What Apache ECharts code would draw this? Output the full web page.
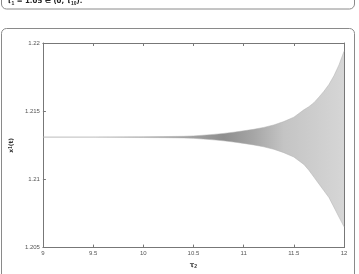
<!DOCTYPE html>
<html><head><meta charset="utf-8">
<script src="https://cdn.jsdelivr.net/npm/echarts@6/dist/echarts.min.js"></script>
<style>html,body{margin:0;padding:0;background:#fff}#c{width:359px;height:274px}</style>
</head><body><div id="c"></div>
<script>
// x positions (tau_2) where the oscillation envelope was read
var tauValues = [9.0, 9.5, 10.0, 10.2, 10.4, 10.5, 10.6, 10.7, 10.8, 10.9, 11.0, 11.1, 11.2, 11.3, 11.4, 11.5, 11.55, 11.6, 11.65, 11.7, 11.75, 11.8, 11.85, 11.9, 11.95, 12.0];
// upper envelope of x1(t)
var upperValues = [1.2131, 1.2131, 1.21313, 1.21314, 1.21316, 1.21319, 1.21324, 1.2133, 1.21337, 1.21346, 1.21356, 1.21367, 1.21381, 1.21399, 1.21424, 1.21456, 1.21483, 1.2151, 1.21533, 1.21562, 1.21603, 1.21646, 1.21696, 1.2176, 1.21839, 1.21939];
// lower envelope of x1(t)
var lowerValues = [1.2131, 1.2131, 1.21307, 1.21306, 1.21304, 1.21301, 1.21296, 1.2129, 1.21283, 1.21274, 1.21264, 1.21253, 1.21239, 1.21221, 1.21196, 1.21164, 1.21137, 1.2111, 1.21067, 1.21017, 1.20967, 1.20917, 1.20867, 1.20796, 1.20724, 1.20653];
var xTicks = [9, 9.5, 10, 10.5, 11, 11.5, 12];
var yTicks = [1.205, 1.21, 1.215, 1.22];

var lowerData = tauValues.map(function (t, i) { return [t, lowerValues[i]]; });
var upperData = tauValues.map(function (t, i) { return [t, upperValues[i]]; });

var chart = echarts.init(document.getElementById('c'), null, {renderer: 'canvas'});
var axisLineStyle = {color: '#777', width: 1};
var lbl = {fontFamily: 'Liberation Sans, Arial, sans-serif', fontSize: 6, color: '#555'};
chart.setOption({
  animation: false,
  backgroundColor: '#fff',
  grid: {left: 35, right: 15, top: 43, bottom: 21},
  xAxis: [{
    type: 'value', min: 9, max: 12, interval: 0.5, position: 'bottom',
    axisLine: {show: true, lineStyle: axisLineStyle},
    axisTick: {show: true, inside: true, length: 3, lineStyle: axisLineStyle},
    axisLabel: Object.assign({margin: 3, formatter: function (v) { return xTicks.indexOf(v) >= 0 ? String(v) : ''; }}, lbl),
    splitLine: {show: false},
    name: '{b|τ}{s|2}', nameLocation: 'middle', nameGap: 10,
    nameTextStyle: {rich: {b: {fontSize: 7, fontWeight: 'bold', color: '#333', fontFamily: 'DejaVu Sans'}, s: {fontSize: 5, fontWeight: 'bold', color: '#333', verticalAlign: 'bottom', padding: [3, 0, 0, 0]}}}
  }, {
    type: 'value', min: 9, max: 12, interval: 0.5, position: 'top',
    axisLine: {show: true, lineStyle: axisLineStyle},
    axisTick: {show: true, inside: true, length: 3, lineStyle: axisLineStyle},
    axisLabel: {show: false}, splitLine: {show: false}
  }],
  yAxis: [{
    type: 'value', min: 1.205, max: 1.22, interval: 0.005, position: 'left',
    axisLine: {show: true, lineStyle: axisLineStyle},
    axisTick: {show: true, inside: true, length: 3, lineStyle: axisLineStyle},
    axisLabel: Object.assign({margin: 3, formatter: function (v) { var r = Math.round(v * 1000) / 1000; return yTicks.indexOf(r) >= 0 ? String(r) : ''; }}, lbl),
    splitLine: {show: false},
    name: '{b|x}{s|1}{b|(t)}', nameLocation: 'middle', nameGap: 19, nameRotate: 90,
    nameTextStyle: {rich: {b: {fontSize: 6, fontWeight: 'bold', color: '#333', fontFamily: 'DejaVu Sans'}, s: {fontSize: 4.5, fontWeight: 'bold', color: '#333'}}}
  }, {
    type: 'value', min: 1.205, max: 1.22, interval: 0.005, position: 'right',
    axisLine: {show: true, lineStyle: axisLineStyle},
    axisTick: {show: true, inside: true, length: 3, lineStyle: axisLineStyle},
    axisLabel: {show: false}, splitLine: {show: false}
  }],
  series: [{
    type: 'custom', name: 'band', silent: true, clip: true,
    data: [[tauValues[0], upperValues[0]]],
    renderItem: function (params, api) {
      var pts = [];
      for (var i = 0; i < tauValues.length; i++) pts.push(api.coord([tauValues[i], upperValues[i]]));
      for (var j = tauValues.length - 1; j >= 0; j--) pts.push(api.coord([tauValues[j], lowerValues[j]]));
      return {
        type: 'polygon', shape: {points: pts},
        style: {
          fill: new echarts.graphic.LinearGradient(0, 0, 1, 0, [
            {offset: 0, color: '#b4b4b4'}, {offset: 0.5, color: '#a0a0a0'}, {offset: 0.6, color: '#8e8e8e'},
            {offset: 0.7, color: '#a6a6a6'}, {offset: 0.8, color: '#c4c4c4'}, {offset: 1, color: '#d6d6d6'}]),
          stroke: null
        }
      };
    }
  }, {
    type: 'line', name: 'upperEdge', data: upperData, symbol: 'none',
    lineStyle: {width: 0.5, color: '#b0b0b0'}, silent: true
  }, {
    type: 'line', name: 'lowerEdge', data: lowerData, symbol: 'none',
    lineStyle: {width: 0.5, color: '#b0b0b0'}, silent: true
  }],
  graphic: [{
    type: 'rect', shape: {x: 1.5, y: -30, width: 353, height: 39, r: 5},
    style: {fill: 'none', stroke: '#8a8a8a', lineWidth: 1}
  }, {
    type: 'text', left: 7, top: -2,
    style: {text: '{b|τ}{s|1}{b| = 1.05 ∈ (0, τ}{s|10}{b|).}',
      rich: {b: {fontSize: 7, fontWeight: 'bold', fill: '#222', fontFamily: 'DejaVu Sans'}, s: {fontSize: 5, fontWeight: 'bold', fill: '#222', padding: [4, 0, 0, 0]}}}
  }, {
    type: 'rect', shape: {x: 1.5, y: 28.5, width: 353, height: 270, r: 5},
    style: {fill: 'none', stroke: '#8a8a8a', lineWidth: 1}
  }]
});
</script></body></html>
